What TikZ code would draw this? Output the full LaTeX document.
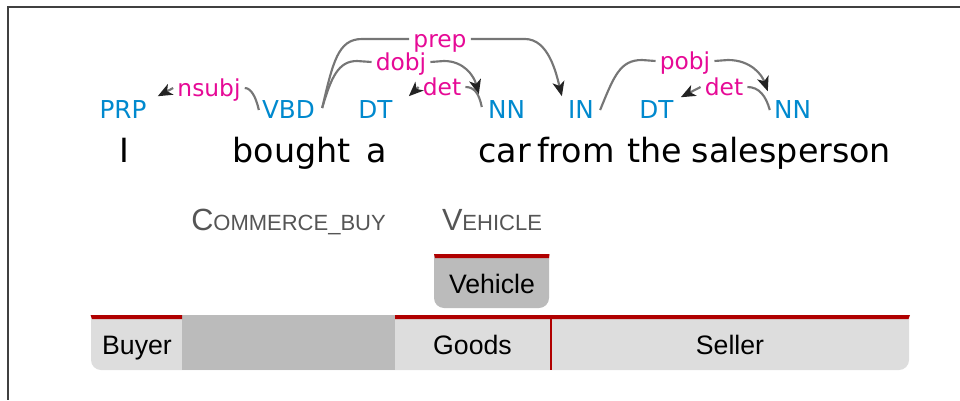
\documentclass[tikz,border=0pt]{standalone}
\usepackage{fontspec}
\setmainfont{DejaVu Sans}
\newfontfamily\libsans{Liberation Sans}
\usetikzlibrary{arrows.meta,calc}
\definecolor{tagblue}{RGB}{0,137,206}
\definecolor{relmag}{RGB}{230,10,150}
\definecolor{arcgray}{RGB}{118,118,118}
\definecolor{tipgray}{RGB}{35,35,35}
\definecolor{fred}{RGB}{176,0,0}
\definecolor{lgray}{RGB}{221,221,221}
\definecolor{mgray}{RGB}{187,187,187}
\definecolor{fgray}{RGB}{85,85,85}
\begin{document}
\begin{tikzpicture}[x=0.75pt,y=-0.75pt,
  word/.style={anchor=base,inner sep=0pt,font=\fontsize{25}{28}\selectfont},
  tag/.style={anchor=base,inner sep=0pt,text=tagblue,font=\fontsize{18.5}{20}\selectfont},
  rel/.style={anchor=base,inner xsep=3pt,inner ysep=0pt,text height=12pt,text depth=0pt,text=relmag,font=\fontsize{17.5}{19}\selectfont},
  deparc/.style={draw=arcgray,line width=1.6pt},
  deparrow/.style={deparc,-{Stealth[length=11pt,width=9pt,inset=3pt,color=tipgray]}},
  fname/.style={anchor=base,inner sep=0pt,text=fgray,font=\libsans},
  role/.style={anchor=base,inner sep=0pt,font=\libsans\fontsize{20}{24}\selectfont},
  redtop/.style={fill=fred}
]
\useasboundingbox (0,0) rectangle (960,400);
% frame
\draw[line width=1pt,color=black!75] (960,7) -- (8,7) -- (8,400);

% words
\node[word] (wI) at (124,162) {I};
\node[word] (wbought) at (291.5,162) {bought};
\node[word] (wa) at (377,162) {a};
\node[word] (wcar) at (504.5,162) {car};
\node[word] (wfrom) at (576,162) {from};
\node[word] (wthe) at (655,162) {the};
\node[word] (wsales) at (791.5,162) {salesperson};

% tags
\node[tag] (prp) at (123,118) {PRP};
\node[tag] (vbd) at (288.5,118) {VBD};
\node[tag] (dta) at (375.5,118) {DT};
\node[tag] (nna) at (506.5,118) {NN};
\node[tag] (inb) at (581,118) {IN};
\node[tag] (dtb) at (656.5,118) {DT};
\node[tag] (nnb) at (792.5,118) {NN};

% relation labels
\node[rel] (nsubj) at (209,96) {nsubj};
\node[rel] (dobj) at (401,70) {dobj};
\node[rel] (prep) at (440,47) {prep};
\node[rel] (deta) at (442,95) {det};
\node[rel] (pobj) at (685,69) {pobj};
\node[rel] (detb) at (724,95) {det};

% arcs
\draw[deparc] ($(vbd.west)+(-3,1)$) .. controls (256,97) and (251,88) .. (nsubj.east);
\draw[deparrow] (nsubj.west) -- ($(prp.north east)+(11,-3.5)$);

\draw[deparc] ($(vbd.east)+(7,-1)$) .. controls (331,78) and (338,61) .. (357,61) -- (dobj.west);
\draw[deparrow] (dobj.east) -- (444,61) .. controls (464,61) and (474,76) .. ($(nna.north west)+(-9,-5.5)$);

\draw[deparc] ($(vbd.east)+(7,-1)$) .. controls (333,62) and (338,39) .. (362,39) -- (prep.west);
\draw[deparrow] (prep.east) -- (525,39) .. controls (548,39) and (556,72) .. ($(inb.north west)+(-6,-3.5)$);

\draw[deparc] ($(nna.west)+(-6,-2)$) .. controls (479,93) and (474,87) .. (deta.east);
\draw[deparrow] (deta.west) -- ($(dta.north east)+(16,-3.5)$);

\draw[deparc] ($(inb.east)+(6,1)$) .. controls (614,76) and (620,60) .. (642,60) -- (pobj.west);
\draw[deparrow] (pobj.east) -- (728,60) .. controls (751,60) and (762,75) .. ($(nnb.north west)+(-6,-8.5)$);

\draw[deparc] ($(nnb.west)+(-4,1)$) .. controls (766,96) and (759,87) .. (detb.east);
\draw[deparrow] (detb.west) -- ($(dtb.north east)+(7,-2.5)$);

% frame names
\node[fname] (cbuy) at (288.5,230) {{\fontsize{23}{26}\selectfont C}{\fontsize{16.5}{20}\selectfont OMMERCE\_BUY}};
\node[fname] (vehf) at (492,230) {{\fontsize{23}{26}\selectfont V}{\fontsize{16.5}{20}\selectfont EHICLE}};

% Vehicle frame element box
\begin{scope}
  \clip (434,254) rectangle (549,308);
  \fill[mgray,rounded corners=7.5pt] (434,230) rectangle (549,308);
\end{scope}
\fill[redtop] (434,254) -- (549.5,254) -- (549,258) -- (435,258) -- cycle;
\node[role] (vehrole) at (492,293) {Vehicle};

% bottom bar
\begin{scope}
  \clip (91,315) rectangle (910,370);
  \fill[lgray,rounded corners=7.5pt] (91,290) rectangle (909,370);
\end{scope}
\fill[mgray] (182,315) rectangle (395,370);
\fill[redtop] (90.5,315) -- (182,315) -- (182,319) -- (92,319) -- cycle;
\fill[redtop] (395,315) -- (910,315) -- (908.5,319) -- (395,319) -- cycle;
\draw[fred,line width=1.5pt] (551,317) -- (551,370);
\node[role] (buyer) at (137,354) {Buyer};
\node[role] (goods) at (472.5,354) {Goods};
\node[role] (seller) at (730,354) {Seller};
\end{tikzpicture}
\end{document}
